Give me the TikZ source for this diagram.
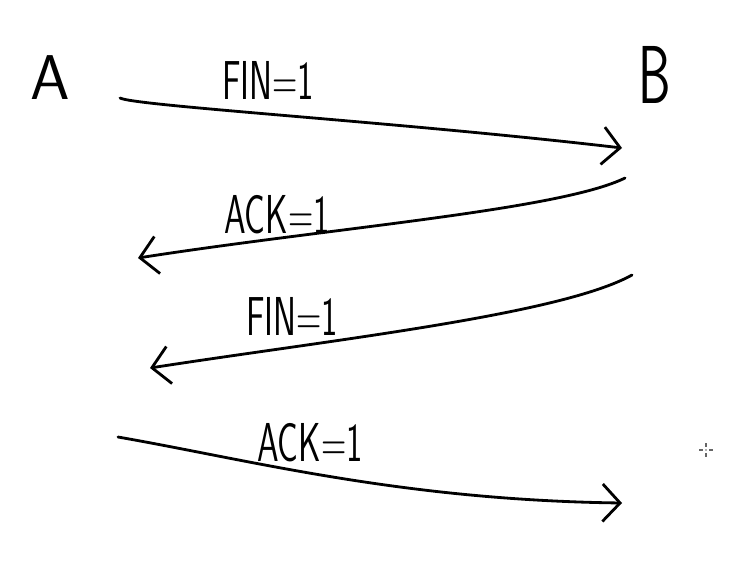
\documentclass[tikz,border=0pt]{standalone}
\usepackage{tikz}
\usetikzlibrary{arrows.meta,calc}
\def\hand#1{\scalebox{0.82}[1.3]{#1}}

\begin{document}
\begin{tikzpicture}[x=0.02cm, y=-0.02cm,
	msg/.style={line width=1.6pt, line cap=round, line join=round,
		-{Straight Barb[length=3.5mm, width=7.5mm, line width=1.6pt]}},
	lbl/.style={font=\sffamily\fontsize{24}{26}\selectfont, inner sep=0pt},
	host/.style={font=\sffamily\fontsize{36}{38}\selectfont, inner sep=0pt}]
			%%%%% START %%%%%
			
			\useasboundingbox (0, 0) rectangle (739, 575);
			
			\node[host] (A) at (50, 78) {A};
			\node[host] (B) at (655, 75) {\hand{B}};
			
			\coordinate (f1s) at (120, 98);
			\coordinate (f1e) at (622, 148);
			\coordinate (a1s) at (625, 178);
			\coordinate (a1e) at (138, 258);
			\coordinate (f2s) at (632, 275);
			\coordinate (f2e) at (150, 368);
			\coordinate (a2s) at (118, 437);
			\coordinate (a2e) at (622, 503);
			
			\draw[msg] (f1s) .. controls (135, 106) and (400, 122) .. (f1e);
			\node[lbl] (fin1) at (268, 80) {\hand{FIN=1}};
			
			\draw[msg] (a1s) .. controls (560, 210) and (330, 228) .. (a1e);
			\node[lbl] (ack1) at (277, 215) {\hand{ACK=1}};
			
			\draw[msg] (f2s) .. controls (560, 315) and (330, 340) .. (f2e);
			\node[lbl] (fin2) at (292, 316) {\hand{FIN=1}};
			
			\draw[msg] (a2s) .. controls (250, 460) and (400, 500) .. (a2e);
			\node[lbl] (ack2) at (310, 443) {\hand{ACK=1}};
			
			\coordinate (cur) at (706, 450);
			\draw[black!60, line width=0.8pt] ($(cur)+(-7,0)$) -- ($(cur)+(-3,0)$)
				($(cur)+(3,0)$) -- ($(cur)+(7,0)$)
				($(cur)+(0,-7)$) -- ($(cur)+(0,-3)$)
				($(cur)+(0,3)$) -- ($(cur)+(0,7)$);
			\fill[black!60] (cur) circle (0.8);
			
			%%%%% END %%%%%
\end{tikzpicture}
\end{document}
